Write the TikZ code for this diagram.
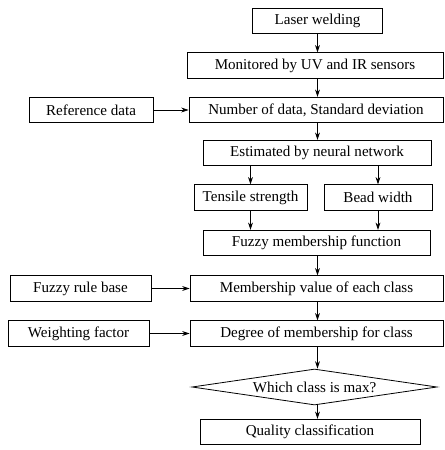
\documentclass[tikz,border=0pt]{standalone}
\usepackage{fontspec}
\setmainfont{Liberation Serif}
\usetikzlibrary{shapes.geometric,arrows.meta}

\tikzset{every picture/.style={line width=0.6pt}}
\tikzset{
  stagebox/.style={draw, rectangle, minimum height=19pt, inner sep=1pt,
    font=\fontsize{11.3}{13}\selectfont},
  choicebox/.style={draw, diamond, aspect=6, minimum width=183.75pt,
    minimum height=27pt, inner sep=1pt, font=\fontsize{11.3}{13}\selectfont},
  flow/.style={-{Stealth[length=5.5pt,width=3.6pt]}}
}

\begin{document}
\begin{tikzpicture}[x=0.75pt,y=0.75pt,yscale=-1,xscale=1]
  \useasboundingbox (0,0) rectangle (444,450);

  % main column
  \node[stagebox, minimum width=97.5pt]  (laser) at (317.5,21)  {Laser welding};
  \node[stagebox, minimum width=192pt]   (mon)   at (315,65.5)  {Monitored by UV and IR sensors};
  \node[stagebox, minimum width=190.5pt] (num)   at (316,110)   {Number of data, Standard deviation};
  \node[stagebox, minimum width=171pt]   (est)   at (317,153)   {Estimated by neural network};
  \node[stagebox, minimum width=84.75pt] (ten)   at (250.5,197.5) {Tensile strength};
  \node[stagebox, minimum width=81pt]    (bead)  at (378,197.5) {Bead width};
  \node[stagebox, minimum width=170.25pt] (fmf)  at (316.5,243) {Fuzzy membership function};
  \node[stagebox, minimum width=189.75pt] (mval) at (316.5,288.5) {Membership value of each class};
  \node[stagebox, minimum width=189.75pt] (deg)  at (316.5,333.5) {Degree of membership for class};
  \node[choicebox] (max) at (314.5,387) {Which class is max?};
  \node[stagebox, minimum width=165pt] (qual) at (310,432) {Quality classification};

  % side inputs
  \node[stagebox, minimum width=93pt]     (ref)  at (91,110)    {Reference data};
  \node[stagebox, minimum width=105.75pt] (rule) at (80.5,288.5) {Fuzzy rule base};
  \node[stagebox, minimum width=105.75pt] (wgt)  at (78.5,333.5) {Weighting factor};

  \draw[flow] (laser.south) -- (laser.south |- mon.north);
  \draw[flow] (mon.south -| laser) -- (laser |- num.north);
  \draw[flow] (num.south -| laser) -- (laser |- est.north);
  \draw[flow] (est.south -| ten) -- (ten.north);
  \draw[flow] (est.south -| bead) -- (bead.north);
  \draw[flow] (ten.south) -- (ten.south |- fmf.north);
  \draw[flow] (bead.south) -- (bead.south |- fmf.north);
  \draw[flow] (fmf.south -| laser) -- (laser |- mval.north);
  \draw[flow] (mval.south -| laser) -- (laser |- deg.north);
  \draw[flow] (deg.south -| laser) -- (laser |- max.north);
  \draw[flow] (max.south -| laser) -- (laser |- qual.north);

  \draw[flow] (ref) -- (num);
  \draw[flow] (rule) -- (mval);
  \draw[flow] (wgt) -- (deg);

\end{tikzpicture}
\end{document}
